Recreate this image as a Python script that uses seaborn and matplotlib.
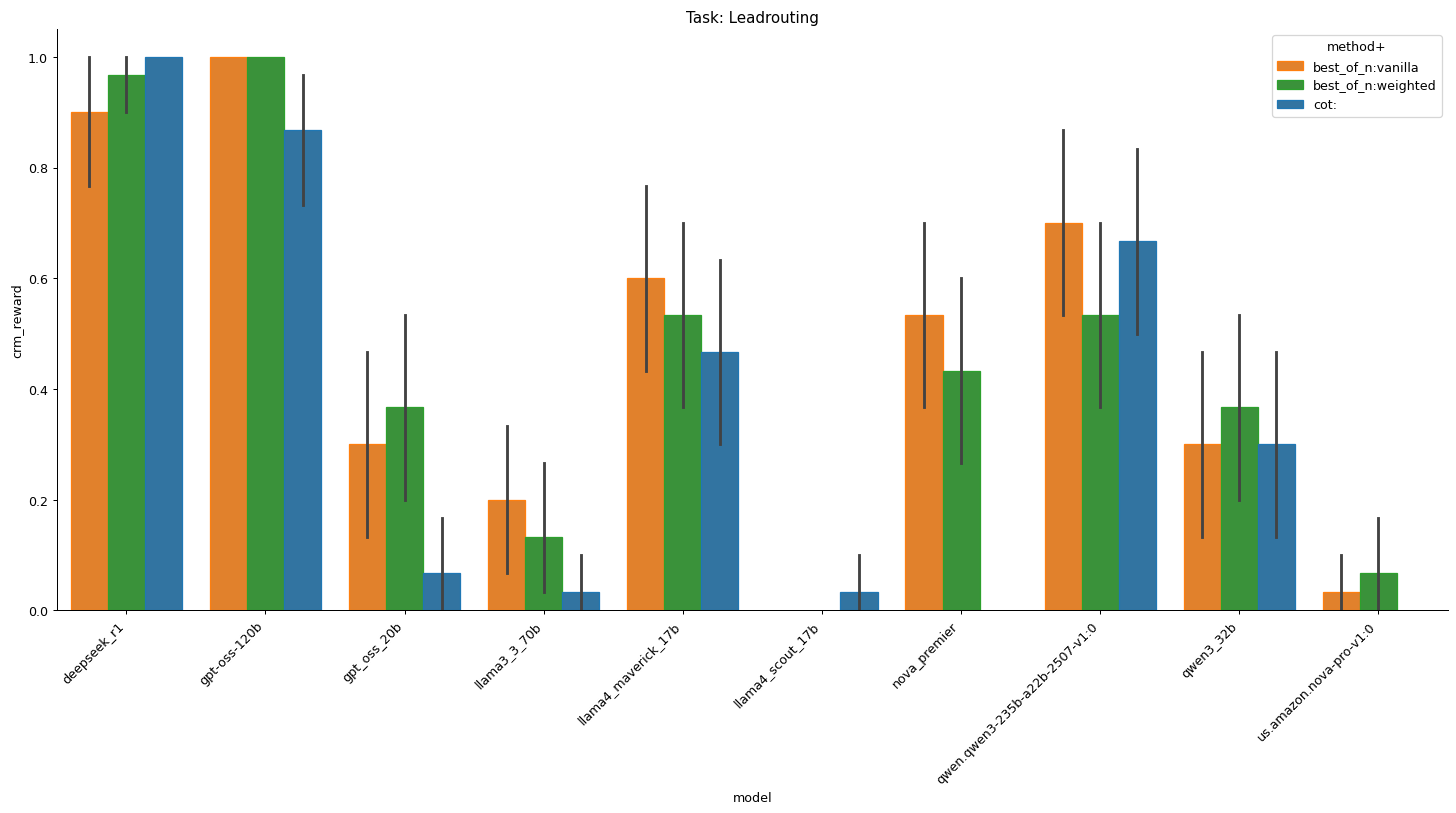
import pandas as pd
import seaborn as sns
import matplotlib.pyplot as plt

models = ['deepseek_r1', 'gpt-oss-120b', 'gpt_oss_20b', 'llama3_3_70b',
          'llama4_maverick_17b', 'llama4_scout_17b', 'nova_premier',
          'qwen.qwen3-235b-a22b-2507-v1:0', 'qwen3_32b', 'us.amazon.nova-pro-v1:0']
methods = ['best_of_n:vanilla', 'best_of_n:weighted', 'cot:']

# mean, lower CI, upper CI per model (None = no data)
vanilla_mean = [0.900, 1.000, 0.300, 0.200, 0.600, None, 0.533, 0.700, 0.300, 0.033]
vanilla_lo   = [0.767, 1.000, 0.133, 0.067, 0.433, None, 0.367, 0.533, 0.133, 0.000]
vanilla_hi   = [1.000, 1.000, 0.467, 0.333, 0.767, None, 0.700, 0.867, 0.467, 0.100]

weighted_mean = [0.967, 1.000, 0.367, 0.133, 0.533, None, 0.433, 0.533, 0.367, 0.067]
weighted_lo   = [0.900, 1.000, 0.200, 0.033, 0.367, None, 0.267, 0.367, 0.200, 0.000]
weighted_hi   = [1.000, 1.000, 0.533, 0.267, 0.700, None, 0.600, 0.700, 0.533, 0.167]

cot_mean = [1.000, 0.867, 0.067, 0.033, 0.467, 0.033, None, 0.667, 0.300, None]
cot_lo   = [1.000, 0.733, 0.000, 0.000, 0.300, 0.000, None, 0.500, 0.133, None]
cot_hi   = [1.000, 0.967, 0.167, 0.100, 0.633, 0.100, None, 0.833, 0.467, None]

series = {
    'best_of_n:vanilla': (vanilla_mean, vanilla_lo, vanilla_hi),
    'best_of_n:weighted': (weighted_mean, weighted_lo, weighted_hi),
    'cot:': (cot_mean, cot_lo, cot_hi),
}

# three rows per bar: median -> mean, min/max -> error bar
rows = []
for method, (mean, lo, hi) in series.items():
    for m, a, b, c in zip(models, mean, lo, hi):
        if a is None:
            continue
        for v in (b, a, c):
            rows.append({'model': m, 'method+': method, 'crm_reward': v})
df = pd.DataFrame(rows)

palette = {'best_of_n:vanilla': 'tab:orange', 'best_of_n:weighted': 'tab:green', 'cot:': 'tab:blue'}

fig, ax = plt.subplots(figsize=(16, 8.945), dpi=91)
sns.barplot(data=df, x='model', y='crm_reward', hue='method+', order=models,
            hue_order=methods, palette=palette, estimator='median',
            errorbar=lambda v: (v.min(), v.max()), ax=ax)
# bright edge like the original
for cont, method in zip(ax.containers, methods):
    for bar in cont:
        bar.set_edgecolor(palette[method])
        bar.set_linewidth(1)
for h, method in zip(ax.get_legend().legend_handles, methods):
    h.set_edgecolor(palette[method])
    h.set_linewidth(1)
ax.set_title('Task: Leadrouting')
plt.setp(ax.get_xticklabels(), rotation=45, ha='right')
sns.despine()
plt.subplots_adjust(left=0.039, right=0.9945, top=0.963, bottom=0.249)
plt.savefig('out.png', dpi=91)
